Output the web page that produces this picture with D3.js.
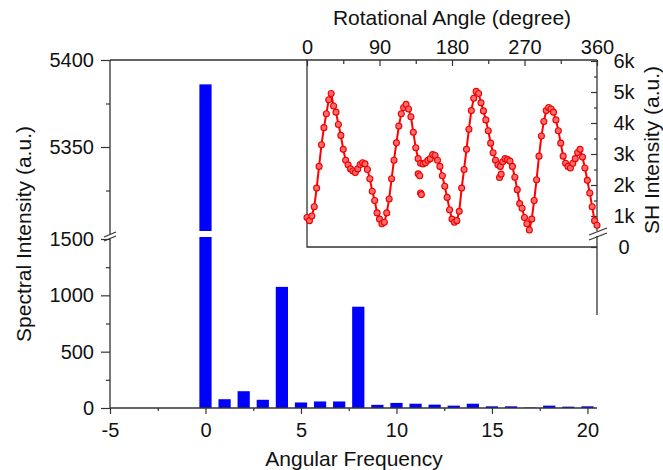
<!DOCTYPE html>
<html>
<head>
<meta charset="utf-8">
<script src="https://cdn.jsdelivr.net/npm/d3@7"></script>
<style>
  body { margin: 0; background: #fff; }
  svg { display: block; }
  text { font-family: "Liberation Sans", Arial, sans-serif; fill: #111; }
</style>
</head>
<body>
<script>
// 主图：角频率谱（柱状图，带断轴）
const freqs = [0, 1, 2, 3, 4, 5, 6, 7, 8, 9, 10, 11, 12, 13, 14, 15, 16, 17, 18, 19, 20]
const spectral = [5386, 78, 149, 73, 1075, 49, 58, 58, 899, 28, 45, 38, 30, 21, 38, 15, 15, 4, 21, 12, 15]
const xTicks = [-5, 0, 5, 10, 15, 20]
const xMinor = [-2.5, 2.5, 7.5, 12.5, 17.5]
const lowTicks = [0, 500, 1000, 1500]
const lowMinor = [250, 750, 1250]
const highTicks = [5350, 5400]
const highMinor = [5325, 5375]

// 插图：SH 强度随旋转角
const angles = [0, 3, 6, 9, 12, 15, 18, 21, 24, 27, 30, 33, 36, 39, 42, 45, 48, 51, 54, 57,
  60, 63, 66, 69, 72, 75, 78, 81, 84, 87, 90, 93, 96, 99, 102, 105, 108, 111, 114, 117,
  120, 123, 126, 129, 132, 135, 138, 141, 144, 147, 150, 153, 156, 159, 162, 165, 168, 171, 174, 177,
  180, 183, 186, 189, 192, 195, 198, 201, 204, 207, 210, 213, 216, 219, 222, 225, 228, 231, 234, 237,
  240, 243, 246, 249, 252, 255, 258, 261, 264, 267, 270, 273, 276, 279, 282, 285, 288, 291, 294, 297,
  300, 303, 306, 309, 312, 315, 318, 321, 324, 327, 330, 333, 336, 339, 342, 345, 348, 351, 354, 357, 360]
const shIntensity = [950, 850, 1000, 1300, 1900, 2600, 3300, 3850, 4300, 4750, 4950, 4550, 4350, 3950, 3600, 3150, 2800, 2650, 2520, 2450,
  2400, 2520, 2660, 2720, 2680, 2500, 2200, 1800, 1500, 1100, 900, 750, 800, 1100, 1550, 2200, 2800, 3360, 3900, 4300,
  4500, 4600, 4450, 4200, 3700, 3200, 2850, 2700, 2680, 2720, 2800, 2850, 2980, 2950, 2800, 2600, 2300, 1960, 1600, 1200,
  900, 800, 850, 1150, 1900, 2500, 3150, 3800, 4400, 4800, 5020, 4950, 4650, 4390, 4100, 3750, 3350, 3040, 2800, 2650,
  2600, 2750, 2850, 2820, 2770, 2600, 2250, 1850, 1400, 1250, 950, 750, 550, 900, 1500, 2170, 2930, 3580, 4050, 4400,
  4500, 4450, 4350, 4100, 3750, 3350, 2930, 2700, 2600, 2550, 2700, 2850, 3050, 3150, 2900, 2550, 2150, 1740, 1300, 850, 700]
const outlierAngles = [138, 140, 141, 142, 239, 241]
const outlierValues = [2360, 2300, 1740, 1690, 2240, 2350]
const angleTicks = [0, 90, 180, 270, 360]
const angleMinor = [45, 135, 225, 315]
const shTicks = [0, 1000, 2000, 3000, 4000, 5000, 6000]
const shTickLabels = ['0', '1k', '2k', '3k', '4k', '5k', '6k']
const shMinor = [1500, 2500, 3500, 4500, 5500]

const W = 663, H = 470
const axisColor = '#333'
const plain = function (d) { return String(d) } // 不要千分位逗号和 U+2212 负号
const svg = d3.select('body').append('svg').attr('width', W).attr('height', H)

const xScale = d3.scaleLinear().domain([-5, 20.5]).range([110, 597])
const yLow = d3.scaleLinear().domain([0, 1500]).range([408, 239])
const yHigh = d3.scaleLinear().domain([5300, 5400]).range([234, 60])
function yMain (v) { return v <= 1500 ? yLow(v) : yHigh(v) }

// 柱子
const bw = (xScale(1) - xScale(0)) * 0.64
svg.selectAll('.bar')
  .data(freqs)
  .enter().append('rect')
  .attr('class', 'bar')
  .attr('x', function (d) { return xScale(d) - bw / 2 })
  .attr('y', function (d, i) { return yMain(spectral[i]) })
  .attr('width', bw)
  .attr('height', function (d, i) { return yLow(0) - yMain(spectral[i]) })
  .attr('fill', '#0000ff')

// 断轴处的白色缺口
svg.append('rect').attr('x', 111).attr('y', 231).attr('width', 190).attr('height', 6).attr('fill', '#fff')

function styleAxis (g, size) {
  g.select('.domain').remove()
  g.selectAll('line').attr('stroke', axisColor).attr('stroke-width', 1.2)
  g.selectAll('text').attr('font-size', size).attr('fill', '#111')
    .attr('font-family', '"Liberation Sans", Arial, sans-serif')
}

// 左轴
svg.append('g').attr('transform', 'translate(110,0)')
  .call(d3.axisLeft(yLow).tickValues(lowTicks).tickSize(9).tickPadding(7).tickFormat(plain))
  .call(function (g) { styleAxis(g, 20) })
svg.append('g').attr('transform', 'translate(110,0)')
  .call(d3.axisLeft(yHigh).tickValues(highTicks).tickSize(9).tickPadding(7).tickFormat(plain))
  .call(function (g) { styleAxis(g, 20) })
svg.append('g').attr('transform', 'translate(110,0)')
  .call(d3.axisLeft(yLow).tickValues(lowMinor).tickSize(4).tickFormat(''))
  .call(function (g) { styleAxis(g, 20) })
svg.append('g').attr('transform', 'translate(110,0)')
  .call(d3.axisLeft(yHigh).tickValues(highMinor).tickSize(4).tickFormat(''))
  .call(function (g) { styleAxis(g, 20) })

// 底轴
svg.append('g').attr('transform', 'translate(0,408)')
  .call(d3.axisBottom(xScale).tickValues(xTicks).tickSize(6).tickPadding(9).tickFormat(plain))
  .call(function (g) { styleAxis(g, 20) })
svg.append('g').attr('transform', 'translate(0,408)')
  .call(d3.axisBottom(xScale).tickValues(xMinor).tickSize(3).tickFormat(''))
  .call(function (g) { styleAxis(g, 20) })

// 轴线
svg.append('path').attr('d', 'M110,60V408H597').attr('fill', 'none').attr('stroke', axisColor).attr('stroke-width', 1.3)
svg.append('path').attr('d', 'M110,60H307').attr('fill', 'none').attr('stroke', axisColor).attr('stroke-width', 1.3)
svg.append('rect').attr('x', 106).attr('y', 234).attr('width', 8).attr('height', 4).attr('fill', '#fff')
svg.append('path').attr('d', 'M104,237L116,232M104,241L116,236').attr('stroke', axisColor).attr('stroke-width', 1.2)

// 插图
const xAngle = d3.scaleLinear().domain([0, 360]).range([307, 597])
const ySH = d3.scaleLinear().domain([0, 6000]).range([247, 61])

svg.append('rect').attr('x', 307).attr('y', 60).attr('width', 290).attr('height', 187).attr('fill', '#fff')
svg.append('path').attr('d', 'M597,60H307V247H597').attr('fill', 'none').attr('stroke', axisColor).attr('stroke-width', 1.3)
svg.append('path').attr('d', 'M597,60V315').attr('fill', 'none').attr('stroke', axisColor).attr('stroke-width', 1.3)

svg.append('g').attr('transform', 'translate(0,60)')
  .call(d3.axisTop(xAngle).tickValues(angleTicks).tickSize(-6).tickPadding(6).tickFormat(plain))
  .call(function (g) { styleAxis(g, 20) })
svg.append('g').attr('transform', 'translate(0,60)')
  .call(d3.axisTop(xAngle).tickValues(angleMinor).tickSize(-4).tickFormat(''))
  .call(function (g) { styleAxis(g, 20) })

svg.append('g').attr('transform', 'translate(597,0)')
  .call(d3.axisRight(ySH).tickValues(shTicks).tickSize(-6).tickPadding(27)
    .tickFormat(function (d, i) { return shTickLabels[i] }))
  .call(function (g) { styleAxis(g, 20); g.selectAll('text').attr('text-anchor', 'middle') })
svg.append('g').attr('transform', 'translate(597,0)')
  .call(d3.axisRight(ySH).tickValues(shMinor).tickSize(-3).tickFormat(''))
  .call(function (g) { styleAxis(g, 20) })

// 右轴断点
svg.append('rect').attr('x', 594).attr('y', 231).attr('width', 6).attr('height', 5).attr('fill', '#fff')
svg.append('path').attr('d', 'M589,235L607,228M589,240L607,233').attr('stroke', axisColor).attr('stroke-width', 1.2)

const shLine = d3.line()
  .x(function (d) { return xAngle(d) })
  .y(function (d, i) { return ySH(shIntensity[i]) })
svg.append('path')
  .datum(angles)
  .attr('d', shLine)
  .attr('fill', 'none')
  .attr('stroke', '#ff0000')
  .attr('stroke-width', 2)

svg.selectAll('.pt')
  .data(angles)
  .enter().append('circle')
  .attr('class', 'pt')
  .attr('cx', function (d) { return xAngle(d) })
  .attr('cy', function (d, i) { return ySH(shIntensity[i]) })
  .attr('r', 3)
  .attr('fill', '#ff6a6a')
  .attr('stroke', '#ee0000')
  .attr('stroke-width', 1.1)

svg.selectAll('.outlier')
  .data(outlierAngles)
  .enter().append('circle')
  .attr('class', 'outlier')
  .attr('cx', function (d) { return xAngle(d) })
  .attr('cy', function (d, i) { return ySH(outlierValues[i]) })
  .attr('r', 3)
  .attr('fill', '#ff6a6a')
  .attr('stroke', '#ee0000')
  .attr('stroke-width', 1.1)

// 标题
svg.append('text').attr('x', 354).attr('y', 466).attr('text-anchor', 'middle')
  .attr('font-size', 21).text('Angular Frequency')
svg.append('text').attr('transform', 'translate(31,234) rotate(-90)').attr('text-anchor', 'middle')
  .attr('font-size', 21).text('Spectral Intensity (a.u.)')
svg.append('text').attr('x', 452).attr('y', 25).attr('text-anchor', 'middle')
  .attr('font-size', 21).text('Rotational Angle (degree)')
svg.append('text').attr('transform', 'translate(659,150) rotate(-90)').attr('text-anchor', 'middle')
  .attr('font-size', 21).text('SH Intensity (a.u.)')
</script>
</body>
</html>
